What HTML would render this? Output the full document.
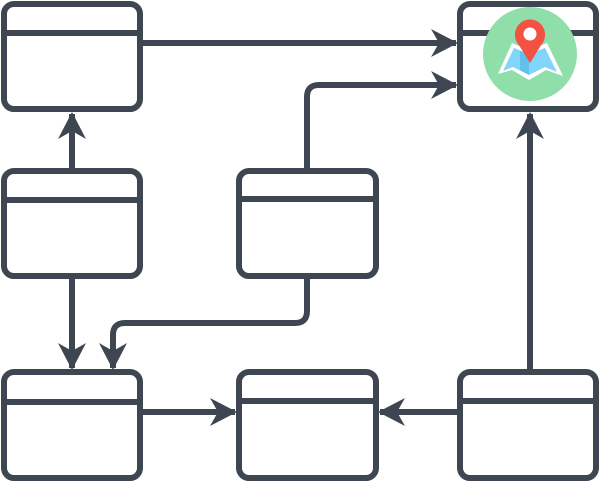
<!DOCTYPE html>
<html><head><style>html,body{margin:0;padding:0;background:#fff}</style></head>
<body>
<svg width="601" height="483" viewBox="0 0 601 483" xmlns="http://www.w3.org/2000/svg">
<defs>
<marker id="a" markerUnits="userSpaceOnUse" markerWidth="34" markerHeight="34" refX="25" refY="14" orient="auto">
<path d="M0,0 L27,14 L0,28 L8,14 Z" fill="#3d4651"/>
</marker>
</defs>
<g fill="none" stroke="#3d4651" stroke-width="6">
<path d="M141,43 H456" marker-end="url(#a)"/>
<path d="M307,168 V97 Q307,85 319,85 H456" marker-end="url(#a)"/>
<path d="M72,168 V114" marker-end="url(#a)"/>
<path d="M72,278 V368" marker-end="url(#a)"/>
<path d="M307,278 V311 Q307,323 295,323 H125 Q113,323 113,335 V368" marker-end="url(#a)"/>
<path d="M141,412 H235" marker-end="url(#a)"/>
<path d="M460,412 H380" marker-end="url(#a)"/>
<path d="M530,370 V114" marker-end="url(#a)"/>
<rect x="4" y="4" width="136" height="105" rx="10" fill="#fff"/><path d="M4,33 H140"/>
<rect x="4" y="171" width="136" height="105" rx="10" fill="#fff"/><path d="M4,200 H140"/>
<rect x="239" y="171" width="137" height="105" rx="10" fill="#fff"/><path d="M239,199 H376"/>
<rect x="460" y="4" width="136" height="105" rx="10" fill="#fff"/><path d="M460,33 H596"/>
<rect x="4" y="372" width="136" height="106" rx="10" fill="#fff"/><path d="M4,402 H140"/>
<rect x="239" y="372" width="137" height="106" rx="10" fill="#fff"/><path d="M239,401 H376"/>
<rect x="460" y="372" width="136" height="106" rx="10" fill="#fff"/><path d="M460,401 H596"/>
</g>
<circle cx="530" cy="54" r="47" fill="#90dea9"/>
<path d="M498,74 L512,43 L529,50 L547,43 L563,76 L546,70 L529,80 L512,70 Z" fill="#fff"/>
<path d="M503,71 L514,48 L529,54 L529,75 L513,67 Z" fill="#81d4fa"/>
<path d="M529,54 L545,48 L557,72 L545,67 L529,75 Z" fill="#81d4fa"/>
<path d="M520,51 L529,54 L529,75 L520,70 Z" fill="#5fc1ec"/>
<path d="M530,63 L517,42 A15,15 0 1 1 543,42 Z" fill="#f25243"/>
<circle cx="530" cy="35" r="15" fill="#f25243"/>
<circle cx="530" cy="34" r="6.5" fill="#fff"/>
</svg>
</body></html>
